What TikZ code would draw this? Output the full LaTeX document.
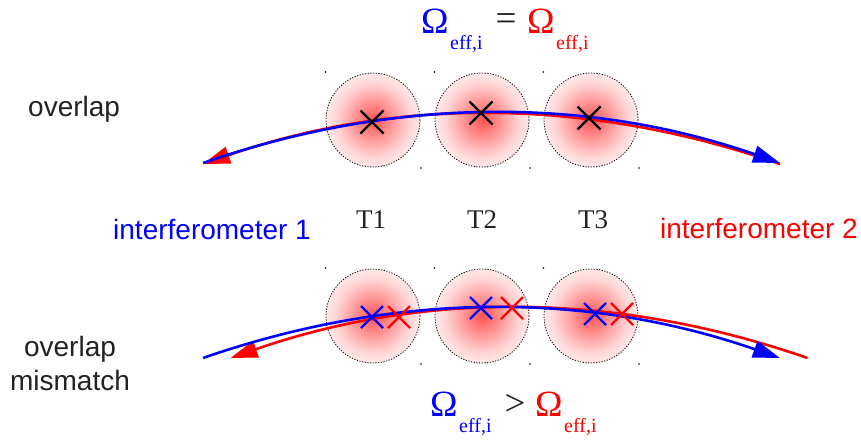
\documentclass[tikz,border=0pt]{standalone}
\usepackage{fontspec}
\setmainfont{Liberation Serif}
\newfontfamily\arialfont{Liberation Sans}
\usetikzlibrary{arrows.meta,calc}
\pgfdeclareradialshading{blob}{\pgfpoint{0bp}{0bp}}{color(0bp)=(red!68); color(12bp)=(red!36); color(20bp)=(red!16); color(25bp)=(red!9); color(50bp)=(red!9)}
\definecolor{ink}{RGB}{34,34,34}
\tikzset{
  sanslabel/.style={font=\arialfont\fontsize{28}{28}\selectfont, inner sep=0pt},
  tlabel/.style={font=\fontsize{27}{27}\selectfont, inner sep=0pt, anchor=base, text=ink},
  bigom/.style={font=\fontsize{37}{37}\selectfont, inner sep=0pt, anchor=base west},
  subom/.style={font=\fontsize{20}{20}\selectfont, inner sep=0pt, anchor=base west},
  blobcirc/.style={shading=blob},
  blobedge/.style={draw=black, line width=0.8pt, dash pattern=on 1.2pt off 1.5pt},
  cornerdot/.style={fill=black},
  arcline/.style={line width=2.6pt},
  tip/.style={-{Triangle[length=27pt, width=17pt]}},
  xmark/.style={line width=2.3pt},
}
\newcommand{\xat}[3]{\draw[xmark,#3] ($(#1)+(-#2,-#2)$) -- ($(#1)+(#2,#2)$) ($(#1)+(-#2,#2)$) -- ($(#1)+(#2,-#2)$);}
\begin{document}
\begin{tikzpicture}[x=1pt,y=-1pt]
\useasboundingbox (0,0) rectangle (861,440);
\fill[white] (0,0) rectangle (861,440);

% ---------- circles ----------
\foreach \n/\cx/\cy in {a1/373/120, a2/482/120, a3/591/120, b1/373/316, b2/482/316, b3/591/316}{
  \coordinate (\n) at (\cx,\cy);
  \shade[blobcirc] (\n) circle (47);
  \draw[blobedge] (\n) circle (47);
  \fill[cornerdot] ($(\n)+(-47.5,-48)$) circle (0.8);
  \fill[cornerdot] ($(\n)+(48,48)$) circle (0.8);
}

% ---------- top arcs ----------
\coordinate (r1s) at (203,164);
\coordinate (r1c1) at (395.3,97.3);
\coordinate (r1c2) at (587.7,97.3);
\coordinate (r1e) at (780,164);
\coordinate (b1s) at (203,163);
\coordinate (b1c1) at (395.3,96.3);
\coordinate (b1c2) at (587.7,96.3);
\coordinate (b1e) at (780,163);
\draw[arcline, red, tip] (r1e) .. controls (r1c2) and (r1c1) .. (r1s);
\draw[arcline, blue, tip] (b1s) .. controls (b1c1) and (b1c2) .. (b1e);

% ---------- bottom arcs ----------
\coordinate (r2s) at (230.5,358);
\coordinate (r2c1) at (422.8,291.3);
\coordinate (r2c2) at (615.2,291.3);
\coordinate (r2e) at (807.5,358);
\coordinate (b2s) at (203,358);
\coordinate (b2c1) at (395.3,291.3);
\coordinate (b2c2) at (587.7,291.3);
\coordinate (b2e) at (780,358);
\draw[arcline, red, tip] (r2e) .. controls (r2c2) and (r2c1) .. (r2s);
\draw[arcline, blue, tip] (b2s) .. controls (b2c1) and (b2c2) .. (b2e);

% ---------- crosses ----------
\coordinate (x1) at (372,122);
\coordinate (x2) at (481,113);
\coordinate (x3) at (589,118);
\xat{x1}{11.5}{black}
\xat{x2}{11.5}{black}
\xat{x3}{11.5}{black}
\coordinate (bx1) at (372,317);
\coordinate (bx2) at (481,308);
\coordinate (bx3) at (595,314);
\coordinate (rx1) at (399,317);
\coordinate (rx2) at (512,308);
\coordinate (rx3) at (622,314);
\xat{bx1}{11}{blue}
\xat{bx2}{11}{blue}
\xat{bx3}{11}{blue}
\xat{rx1}{11}{red}
\xat{rx2}{11}{red}
\xat{rx3}{11}{red}

% ---------- labels ----------
\node[sanslabel, text=ink, anchor=base west] (ov) at (28,116) {overlap};
\node[sanslabel, text=ink, anchor=base] (ovm1) at (70,356) {overlap};
\node[sanslabel, text=ink, anchor=base] (ovm2) at (70,390) {mismatch};
\node[sanslabel, text=blue, anchor=base west] (if1) at (113,239) {interferometer 1};
\node[sanslabel, text=red, anchor=base east] (if2) at (858,238) {interferometer 2};
\node[tlabel] (t1) at (371,228) {T1};
\node[tlabel] (t2) at (482,228) {T2};
\node[tlabel] (t3) at (593,228) {T3};

% ---------- formulas ----------
\node[bigom, text=blue] (o1) at (421,33) {Ω};
\node[subom, text=blue] (s1) at (450,49) {eff,i};
\node[bigom, text=ink, anchor=base] (eq) at (506,30) {=};
\node[bigom, text=red] (o2) at (527,33) {Ω};
\node[subom, text=red] (s2) at (556,49) {eff,i};

\node[bigom, text=blue] (o3) at (430,416) {Ω};
\node[subom, text=blue] (s3) at (459,432) {eff,i};
\node[bigom, text=ink, anchor=base] (gt) at (515,415) {>};
\node[bigom, text=red] (o4) at (535,416) {Ω};
\node[subom, text=red] (s4) at (564,432) {eff,i};
\end{tikzpicture}
\end{document}
